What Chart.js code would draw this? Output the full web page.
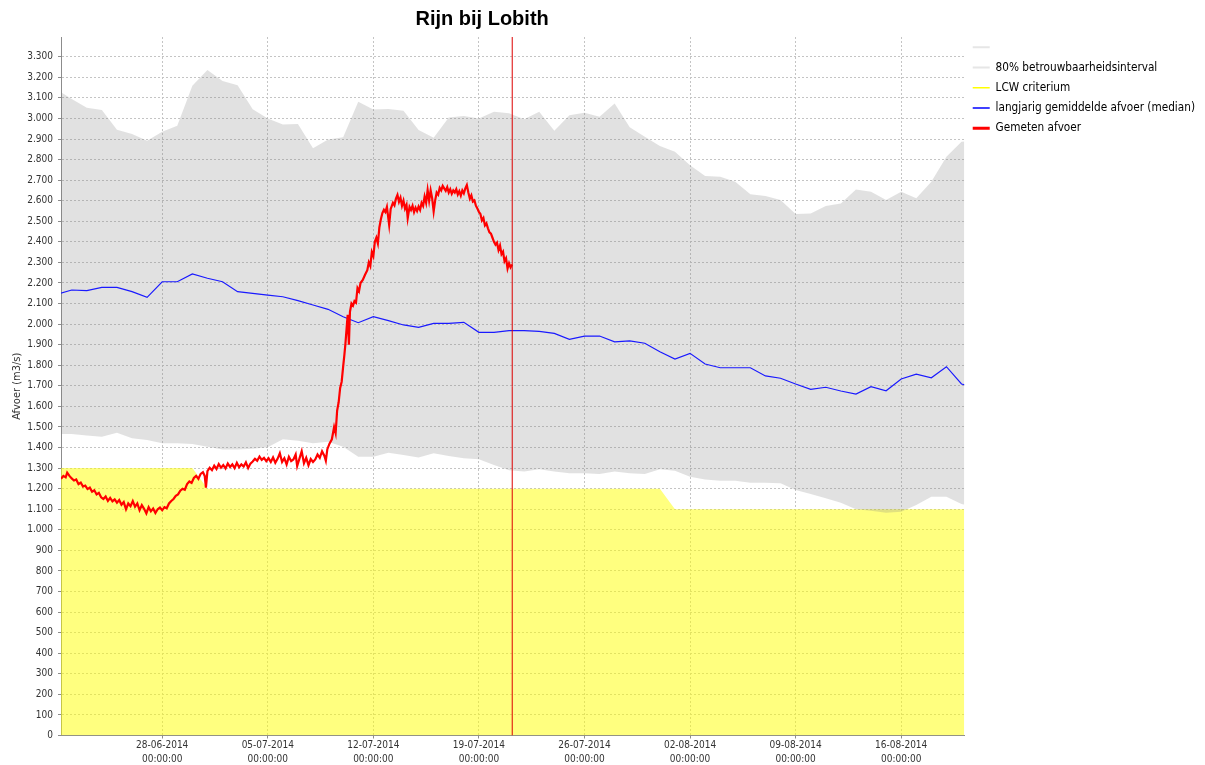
<!DOCTYPE html>
<html>
<head>
<meta charset="utf-8">
<title>Rijn bij Lobith</title>
<script src="https://cdn.jsdelivr.net/npm/chart.js@4.4.1/dist/chart.umd.min.js"></script>
<style>
  html, body { margin: 0; padding: 0; background: #fff; }
  canvas { display: block; }
</style>
</head>
<body>
<canvas id="afvoerChart" width="1205" height="765"></canvas>
<script>
// x values are days relative to 28-06-2014 00:00
const X_MIN = -6.71;
const X_MAX = 53.18;
const Y_MAX = 3396;
const NOW_DAY = 23.21; // vertical marker

const tickDays = [0, 7, 14, 21, 28, 35, 42, 49];
const tickLabels = ['28-06-2014', '05-07-2014', '12-07-2014', '19-07-2014', '26-07-2014', '02-08-2014', '09-08-2014', '16-08-2014'];
const yTicks = [0, 100, 200, 300, 400, 500, 600, 700, 800, 900, 1000, 1100, 1200, 1300, 1400, 1500, 1600, 1700, 1800,
    1900, 2000, 2100, 2200, 2300, 2400, 2500, 2600, 2700, 2800, 2900, 3000, 3100, 3200, 3300];

// daily values: 80% interval and long-term median
const bandDays = [-7, -6, -5, -4, -3, -2, -1, 0, 1, 2, 3, 4, 5, 6, 7, 8, 9, 10, 11, 12, 13, 14, 15, 16, 17, 18, 19, 20,
    21, 22, 23, 24, 25, 26, 27, 28, 29, 30, 31, 32, 33, 34, 35, 36, 37, 38, 39, 40, 41, 42, 43, 44, 45, 46, 47, 48, 49,
    50, 51, 52, 53, 54];
const bandUpper = [3140, 3095, 3052, 3041, 2945, 2924, 2892, 2935, 2965, 3159, 3235, 3182, 3162, 3045, 3000, 2971, 2973,
    2855, 2898, 2908, 3081, 3044, 3046, 3037, 2944, 2906, 3005, 3012, 3000, 3033, 3025, 2996, 3033, 2940, 3016, 3028,
    3008, 3073, 2957, 2911, 2866, 2838, 2773, 2720, 2717, 2692, 2632, 2623, 2603, 2535, 2538, 2574, 2587, 2655, 2644,
    2603, 2644, 2612, 2692, 2814, 2887, 2890];
const bandLower = [1466, 1466, 1458, 1453, 1472, 1445, 1437, 1421, 1421, 1417, 1404, 1391, 1391, 1394, 1401, 1440, 1433,
    1421, 1428, 1404, 1355, 1355, 1375, 1364, 1352, 1372, 1359, 1348, 1343, 1315, 1290, 1283, 1294, 1283, 1275, 1275,
    1271, 1284, 1275, 1271, 1294, 1287, 1258, 1245, 1239, 1239, 1229, 1229, 1226, 1193, 1174, 1153, 1132, 1100, 1093,
    1083, 1088, 1121, 1161, 1161, 1125, 1110];
const medianFlow = [2145, 2166, 2163, 2179, 2179, 2158, 2130, 2206, 2206, 2244, 2223, 2206, 2158, 2150, 2141, 2133, 2114,
    2093, 2072, 2036, 2007, 2036, 2017, 1996, 1984, 2004, 2004, 2009, 1960, 1960, 1968, 1968, 1965, 1955, 1926, 1942,
    1942, 1914, 1919, 1907, 1866, 1830, 1858, 1806, 1788, 1788, 1788, 1748, 1737, 1709, 1683, 1693, 1675, 1660, 1696,
    1676, 1733, 1757, 1739, 1793, 1709, 1690];

// LCW criterion
const lcwDays = [-7, 2, 3, 33, 34, 54];
const lcwFlow = [1300, 1300, 1200, 1200, 1100, 1100];

// measured discharge
const measuredDays = [-6.71, -6.55, -6.4, -6.3, -6.15, -6.0, -5.85, -5.7, -5.55, -5.4, -5.25, -5.1, -4.95, -4.8, -4.65,
    -4.5, -4.35, -4.2, -4.05, -3.9, -3.75, -3.6, -3.45, -3.3, -3.15, -3.0, -2.85, -2.7, -2.55, -2.4, -2.25, -2.1, -1.95,
    -1.8, -1.65, -1.5, -1.35, -1.2, -1.05, -0.9, -0.75, -0.6, -0.45, -0.3, -0.15, 0.0, 0.15, 0.3, 0.45, 0.6, 0.75, 0.9,
    1.05, 1.2, 1.35, 1.5, 1.65, 1.8, 1.95, 2.1, 2.25, 2.4, 2.55, 2.7, 2.82, 2.9, 3.0, 3.15, 3.3, 3.45, 3.6, 3.75, 3.9,
    4.05, 4.2, 4.35, 4.5, 4.65, 4.8, 4.95, 5.1, 5.25, 5.4, 5.55, 5.7, 5.85, 6.0, 6.15, 6.3, 6.45, 6.6, 6.75, 6.9, 7.05,
    7.2, 7.35, 7.5, 7.65, 7.8, 7.95, 8.1, 8.25, 8.4, 8.55, 8.7, 8.85, 8.95, 9.1, 9.25, 9.4, 9.55, 9.7, 9.85, 10.0, 10.15,
    10.3, 10.45, 10.6, 10.75, 10.85, 10.95, 11.1, 11.25, 11.4, 11.5, 11.6, 11.7, 11.8, 11.9, 12.0, 12.08, 12.15, 12.25,
    12.3, 12.38, 12.45, 12.55, 12.65, 12.75, 12.85, 12.95, 13.05, 13.15, 13.3, 13.45, 13.6, 13.7, 13.8, 13.9, 14.0,
    14.1, 14.2, 14.3, 14.4, 14.5, 14.6, 14.7, 14.8, 14.9, 15.05, 15.15, 15.3, 15.4, 15.5, 15.6, 15.7, 15.8, 15.9, 16.0,
    16.1, 16.2, 16.28, 16.4, 16.5, 16.6, 16.7, 16.8, 16.9, 17.0, 17.1, 17.2, 17.3, 17.4, 17.5, 17.6, 17.7, 17.8, 17.9,
    18.0, 18.1, 18.2, 18.3, 18.4, 18.5, 18.6, 18.7, 18.8, 18.9, 19.0, 19.1, 19.2, 19.3, 19.4, 19.5, 19.6, 19.7, 19.8,
    19.9, 20.0, 20.1, 20.2, 20.3, 20.4, 20.5, 20.6, 20.7, 20.8, 20.9, 21.0, 21.1, 21.2, 21.3, 21.4, 21.5, 21.6, 21.7,
    21.8, 21.9, 22.0, 22.1, 22.2, 22.3, 22.4, 22.5, 22.6, 22.7, 22.8, 22.9, 23.0, 23.1, 23.2];
const measuredFlow = [1248, 1262, 1255, 1278, 1262, 1250, 1240, 1245, 1222, 1230, 1210, 1215, 1198, 1205, 1185, 1192,
    1172, 1180, 1158, 1150, 1162, 1140, 1155, 1138, 1148, 1132, 1145, 1122, 1135, 1100, 1128, 1115, 1140, 1112, 1128,
    1095, 1120, 1102, 1080, 1110, 1090, 1104, 1082, 1100, 1108, 1095, 1110, 1105, 1128, 1140, 1150, 1165, 1172, 1190,
    1200, 1195, 1222, 1235, 1228, 1252, 1262, 1248, 1272, 1280, 1262, 1205, 1285, 1302, 1290, 1312, 1296, 1320, 1302,
    1315, 1298, 1322, 1306, 1318, 1300, 1326, 1304, 1318, 1308, 1328, 1300, 1322, 1332, 1345, 1336, 1356, 1340, 1350,
    1334, 1348, 1330, 1352, 1326, 1345, 1372, 1330, 1348, 1318, 1355, 1334, 1342, 1366, 1310, 1346, 1382, 1324, 1350,
    1314, 1344, 1330, 1342, 1366, 1350, 1382, 1360, 1336, 1392, 1420, 1440, 1500, 1470, 1580, 1620, 1690, 1720, 1795,
    1850, 1905, 2000, 2045, 1900, 2060, 2100, 2090, 2112, 2105, 2175, 2160, 2200, 2215, 2240, 2262, 2300, 2282, 2350,
    2330, 2400, 2420, 2392, 2470, 2510, 2540, 2556, 2545, 2570, 2482, 2560, 2590, 2578, 2610, 2628, 2595, 2615, 2575,
    2600, 2562, 2580, 2515, 2570, 2555, 2575, 2545, 2566, 2550, 2572, 2555, 2590, 2575, 2620, 2590, 2652, 2600, 2650,
    2612, 2548, 2602, 2640, 2630, 2662, 2650, 2672, 2660, 2648, 2666, 2640, 2656, 2634, 2650, 2640, 2656, 2630, 2646,
    2625, 2650, 2636, 2660, 2676, 2640, 2610, 2626, 2596, 2602, 2576, 2562, 2546, 2536, 2504, 2516, 2480, 2490, 2466,
    2446, 2440, 2420, 2400, 2386, 2396, 2360, 2382, 2340, 2352, 2306, 2320, 2270, 2296, 2276, 2290];

const FONT = '"DejaVu Sans Condensed", "DejaVu Sans", sans-serif';

const legendEntries = [
    { text: '', color: '#e6e6e6', width: 2 },
    { text: '80% betrouwbaarheidsinterval', color: '#e6e6e6', width: 2 },
    { text: 'LCW criterium', color: '#ffff00', width: 1.5 },
    { text: 'langjarig gemiddelde afvoer (median)', color: '#0000ff', width: 1.5 },
    { text: 'Gemeten afvoer', color: '#ff0000', width: 3 }
];

function toPoints(xs, ys) {
    return xs.map((x, i) => ({ x: x, y: ys[i] }));
}

function thousands(v) {
    return String(v).replace(/\B(?=(\d{3})+(?!\d))/g, '.');
}

// title centred over the area left of the legend
const titlePlugin = {
    id: 'leftTitle',
    afterDraw(chart) {
        const ctx = chart.ctx;
        ctx.save();
        ctx.font = 'bold 20px "Liberation Sans", Arial, sans-serif';
        ctx.fillStyle = '#000';
        ctx.textAlign = 'center';
        ctx.textBaseline = 'middle';
        ctx.fillText('Rijn bij Lobith', chart.legend.left / 2, 19);
        ctx.restore();
    }
};

Chart.defaults.font.family = FONT;

new Chart(document.getElementById('afvoerChart'), {
    type: 'line',
    data: {
        datasets: [
            {
                label: '', data: toPoints(bandDays, bandLower),
                borderWidth: 0, pointRadius: 0, fill: false, order: 4
            },
            {
                label: '80% betrouwbaarheidsinterval', data: toPoints(bandDays, bandUpper),
                borderWidth: 0, pointRadius: 0, fill: 0,
                backgroundColor: 'rgba(128,128,128,0.24)', order: 3
            },
            {
                label: 'LCW criterium', data: toPoints(lcwDays, lcwFlow),
                borderWidth: 0, pointRadius: 0, fill: 'origin',
                backgroundColor: 'rgba(255,255,0,0.5)', order: 5
            },
            {
                label: 'langjarig gemiddelde afvoer (median)', data: toPoints(bandDays, medianFlow),
                borderColor: '#1a1aff', borderWidth: 1.2, pointRadius: 0, fill: false, order: 2
            },
            {
                label: 'Gemeten afvoer', data: toPoints(measuredDays, measuredFlow),
                borderColor: '#ff0000', borderWidth: 2.2, pointRadius: 0, fill: false, order: 1
            },
            {
                label: 'nu', data: [{ x: NOW_DAY, y: 0 }, { x: NOW_DAY, y: Y_MAX }],
                borderColor: '#dd0000', borderWidth: 1, pointRadius: 0, fill: false, order: 0
            }
        ]
    },
    options: {
        responsive: false,
        animation: false,
        devicePixelRatio: 1,
        layout: { padding: { top: 33, right: 0, bottom: 0, left: 0 } },
        elements: { line: { tension: 0 } },
        scales: {
            x: {
                type: 'linear', min: X_MIN, max: X_MAX,
                border: { display: true, color: '#8c8c8c', dash: [2, 2] },
                grid: { color: '#c4c4c4', tickLength: 3, tickColor: '#8c8c8c' },
                afterBuildTicks: s => { s.ticks = tickDays.map(v => ({ value: v })); },
                ticks: {
                    autoSkip: false, maxRotation: 0, padding: 0, color: '#333',
                    font: { size: 10, lineHeight: 1.4 },
                    callback: v => {
                        const i = tickDays.indexOf(v);
                        return i < 0 ? '' : [tickLabels[i], '00:00:00'];
                    }
                },
                afterFit: s => { s.height = 29.5; }
            },
            xTop: {
                type: 'linear', position: 'top', display: true,
                grid: { display: false }, border: { display: false }, ticks: { display: false },
                afterFit: s => { s.height = 4; }
            },
            y: {
                min: 0, max: Y_MAX,
                border: { display: true, color: '#8c8c8c', dash: [2, 2] },
                grid: { color: '#c4c4c4', tickLength: 3, tickColor: '#8c8c8c' },
                afterBuildTicks: s => { s.ticks = yTicks.map(v => ({ value: v })); },
                ticks: {
                    autoSkip: false, padding: 5, color: '#333',
                    font: { size: 10 },
                    callback: v => thousands(v)
                },
                title: {
                    display: true, text: 'Afvoer (m3/s)', color: '#333',
                    font: { size: 11 }, padding: { top: 11, bottom: 0 }
                },
                afterFit: s => { s.width = 61; }
            }
        },
        plugins: {
            title: { display: false },
            tooltip: { enabled: false },
            legend: {
                position: 'right', align: 'start',
                labels: {
                    usePointStyle: true, pointStyle: 'line', pointStyleWidth: 17,
                    padding: 8.5, color: '#222', font: { size: 11.7 },
                    generateLabels: () => legendEntries.map((e, i) => ({
                        text: e.text, strokeStyle: e.color, fillStyle: e.color,
                        lineWidth: e.width, pointStyle: 'line', hidden: false, datasetIndex: i
                    }))
                }
            }
        }
    },
    plugins: [titlePlugin]
});
</script>
</body>
</html>
